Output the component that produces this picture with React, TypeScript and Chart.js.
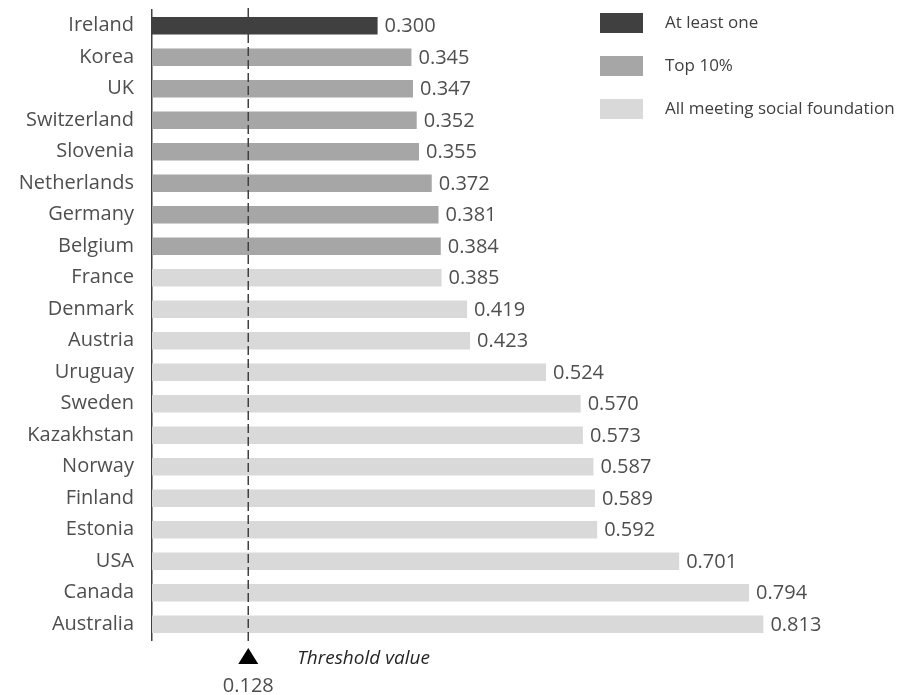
import React, { useEffect, useRef } from "react";
import { Chart, registerables } from "chart.js";

Chart.register(...registerables);

const countries = [
  "Ireland", "Korea", "UK", "Switzerland", "Slovenia", "Netherlands", "Germany", "Belgium",
  "France", "Denmark", "Austria", "Uruguay", "Sweden", "Kazakhstan", "Norway", "Finland",
  "Estonia", "USA", "Canada", "Australia",
];
const values = [
  0.300, 0.345, 0.347, 0.352, 0.355, 0.372, 0.381, 0.384,
  0.385, 0.419, 0.423, 0.524, 0.570, 0.573, 0.587, 0.589,
  0.592, 0.701, 0.794, 0.813,
];
// group index per country: 0 = At least one, 1 = Top 10%, 2 = All meeting social foundation
const groups = [0, 1, 1, 1, 1, 1, 1, 1, 2, 2, 2, 2, 2, 2, 2, 2, 2, 2, 2, 2];
const groupNames = ["At least one", "Top 10%", "All meeting social foundation"];
const groupColors = ["#404040", "#a6a6a6", "#d9d9d9"];
const thresholdValue = 0.128;
const thresholdLabel = "Threshold value";

const FONT = "'Open Sans', sans-serif";
const TEXT = "#4f4f4f";

const overlayPlugin = {
  id: "overlay",
  afterDatasetsDraw(chart: any) {
    const { ctx, chartArea, scales } = chart;
    const meta = chart.getDatasetMeta(0);
    ctx.save();
    // value labels
    ctx.font = `20px ${FONT}`;
    ctx.fillStyle = TEXT;
    ctx.textAlign = "left";
    ctx.textBaseline = "middle";
    meta.data.forEach((bar: any, i: number) => {
      ctx.fillText(values[i].toFixed(3), bar.x + 7, bar.y + 1);
    });
    // threshold line
    const tx = scales.x.getPixelForValue(thresholdValue);
    ctx.strokeStyle = "#404040";
    ctx.lineWidth = 1.5;
    ctx.setLineDash([9, 4]);
    ctx.beginPath();
    ctx.moveTo(tx, chartArea.top - 2);
    ctx.lineTo(tx, chartArea.bottom + 2);
    ctx.stroke();
    ctx.setLineDash([]);
    // triangle
    const triTop = chartArea.bottom + 8;
    ctx.fillStyle = "#000000";
    ctx.beginPath();
    ctx.moveTo(tx, triTop);
    ctx.lineTo(tx + 10, triTop + 16);
    ctx.lineTo(tx - 10, triTop + 16);
    ctx.closePath();
    ctx.fill();
    // threshold value text
    ctx.fillStyle = TEXT;
    ctx.textAlign = "center";
    ctx.fillText(thresholdValue.toFixed(3), tx, triTop + 38);
    ctx.fillStyle = "#262626";
    ctx.textAlign = "left";
    ctx.font = `italic 19px ${FONT}`;
    ctx.fillText(thresholdLabel, tx + 49, triTop + 11);
    // legend
    ctx.font = `17px ${FONT}`;
    groupNames.forEach((name, i) => {
      const y = 13 + i * 43;
      ctx.fillStyle = groupColors[i];
      ctx.fillRect(600, y, 43, 20);
      ctx.fillStyle = "#404040";
      ctx.textBaseline = "middle";
      ctx.fillText(name, 665, y + 10);
    });
    ctx.restore();
  },
};

export default function App() {
  const ref = useRef<HTMLCanvasElement>(null);
  useEffect(() => {
    document.body.style.margin = "0";
    const chart = new Chart(ref.current!, {
      type: "bar",
      data: {
        labels: countries,
        datasets: [
          {
            data: values,
            backgroundColor: groups.map((g) => groupColors[g]),
            barPercentage: 0.55,
            categoryPercentage: 1,
          },
        ],
      },
      options: {
        indexAxis: "y",
        animation: false,
        responsive: false,
        layout: { padding: { top: 10, bottom: 55, left: 0, right: 17 } },
        plugins: { legend: { display: false }, tooltip: { enabled: false } },
        scales: {
          x: { display: false, min: 0, max: 1 },
          y: {
            afterFit(scale: any) {
              scale.width = 152;
              scale.paddingTop = 0;
              scale.paddingBottom = 0;
            },
            grid: { display: false, drawTicks: false },
            border: { display: true, color: "#404040", width: 1.5 },
            ticks: {
              padding: 18,
              color: TEXT,
              font: { family: FONT, size: 20 },
            },
          },
        },
      },
      plugins: [overlayPlugin],
    });
    return () => chart.destroy();
  }, []);
  return <canvas ref={ref} width={921} height={695} style={{ display: "block" }} />;
}
